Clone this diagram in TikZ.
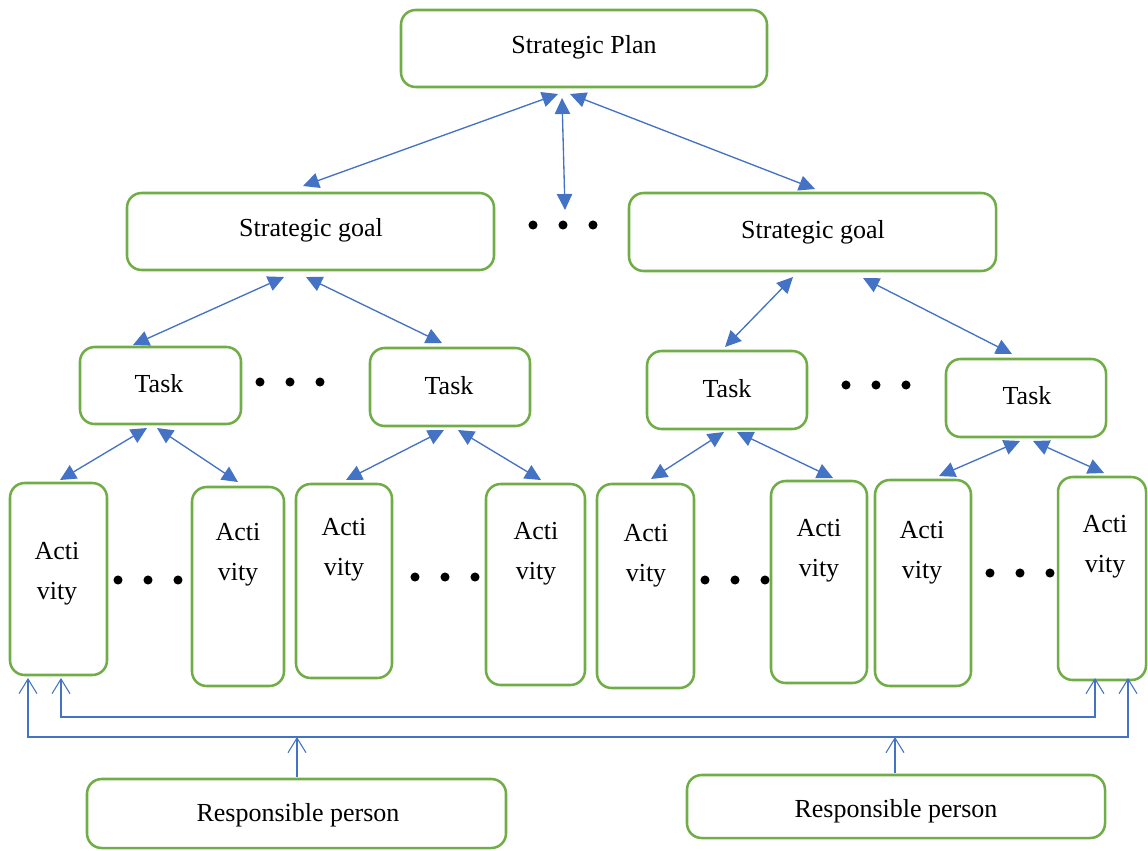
\documentclass[tikz,border=0pt]{standalone}
\usepackage{fontspec}
\setmainfont{Liberation Serif}
\usetikzlibrary{arrows.meta,calc}
\definecolor{boxgreen}{HTML}{70AD47}
\definecolor{lineblue}{HTML}{4472C4}
\tikzset{
  box/.style={draw=boxgreen, line width=1.9pt, rounded corners=11pt, inner sep=0pt, outer sep=0pt, fill=white},
  lbl/.style={inner sep=0pt, font=\fontsize{19.5}{30}\selectfont, align=center, text=black, yshift=-2.2pt},
  dotmark/.style={circle, fill=black, inner sep=0pt, minimum size=6.8pt},
  dbl/.style={draw=lineblue, line width=1pt, {Triangle[length=12pt,width=11.5pt]}-{Triangle[length=12pt,width=11.5pt]}},
  barb/.style={draw=lineblue, line width=0.8pt, -{Straight Barb[length=11pt,width=13.5pt]}},
  barb2/.style={draw=lineblue, line width=0.8pt, {Straight Barb[length=11pt,width=13.5pt]}-{Straight Barb[length=11pt,width=13.5pt]}}
}
\newcommand\mybox[5]{\node[box, minimum width={(#4-#2)*0.75pt}, minimum height={(#5-#3)*0.75pt}] (#1) at ({(#2+#4)/2},{(#3+#5)/2}) {};}
\begin{document}
\begin{tikzpicture}[x=0.75pt,y=-0.75pt]
\useasboundingbox (0,0) rectangle (1148,850);
% boxes
\mybox{plan}{401}{10}{767}{87}
\mybox{g1}{127}{193}{494}{270}
\mybox{g2}{629}{193}{996}{271}
\mybox{t1}{80}{347}{241}{424}
\mybox{t2}{370}{348}{530}{426}
\mybox{t3}{647}{351}{807}{429}
\mybox{t4}{946}{359}{1106}{437}
\mybox{a1}{10}{483}{107}{675}
\mybox{a2}{192}{487}{284}{686}
\mybox{a3}{296}{484}{392}{678}
\mybox{a4}{486}{484}{585}{685}
\mybox{a5}{597}{484}{694}{688}
\mybox{a6}{771}{481}{867}{683}
\mybox{a7}{875}{480}{971}{686}
\mybox{a8}{1058}{477}{1146}{680}
\mybox{r1}{87}{779}{506}{848}
\mybox{r2}{687}{775}{1105}{838}
% labels
\node[lbl] (lplan) at (584,44) {Strategic Plan};
\node[lbl] (lg1) at (311,227) {Strategic goal};
\node[lbl] (lg2) at (813,229) {Strategic goal};
\node[lbl] (lt1) at (159,381) {Task};
\node[lbl] (lt2) at (449,383) {Task};
\node[lbl] (lt3) at (727,386) {Task};
\node[lbl] (lt4) at (1027,393) {Task};
\node[lbl] (la1) at (57,571) {Acti\\vity};
\node[lbl] (la2) at (238,552) {Acti\\vity};
\node[lbl] (la3) at (344,547) {Acti\\vity};
\node[lbl] (la4) at (536,551) {Acti\\vity};
\node[lbl] (la5) at (646,553) {Acti\\vity};
\node[lbl] (la6) at (819,548) {Acti\\vity};
\node[lbl] (la7) at (922,550) {Acti\\vity};
\node[lbl] (la8) at (1105,544) {Acti\\vity};
\node[lbl] (lr1) at (298,812) {Responsible person};
\node[lbl] (lr2) at (896,808) {Responsible person};
% dots
\foreach \n/\x/\y in {d0a/533/225,d0b/563/225,d0c/593/225,
  d1a/260/382,d1b/290/382,d1c/320/382,
  d2a/846/385,d2b/876/385,d2c/906/385,
  d3a/118/580,d3b/148/580,d3c/178/580,
  d4a/415/577,d4b/445/577,d4c/475/577,
  d5a/705/580,d5b/735/580,d5c/765/580,
  d6a/990/573,d6b/1020/573,d6c/1050/573}
  \node[dotmark] (\n) at (\x,\y) {};
% double arrows
\draw[dbl] ($(plan.south west)+(157,7)$) -- ($(g1.north west)+(176,-7)$);
\draw[dbl] ($(plan.south west)+(169,7)$) -- ($(g2.north west)+(186,-4)$);
\draw[dbl] ($(plan.south west)+(161,11)$) -- ($(d0b)+(2,-15)$);
\draw[dbl] ($(g1.south west)+(157,7)$) -- ($(t1.north west)+(53,-2)$);
\draw[dbl] ($(g1.south west)+(179,7)$) -- ($(t2.north west)+(72,-5)$);
\draw[dbl] ($(g2.south west)+(164,6)$) -- ($(t3.north west)+(78,-4)$);
\draw[dbl] ($(g2.south west)+(234,7)$) -- ($(t4.north west)+(66,-5)$);
\draw[dbl] ($(t1.south west)+(67,4)$) -- ($(a1.north west)+(50,-3)$);
\draw[dbl] ($(t1.south west)+(77,4)$) -- ($(a2.north west)+(46,-5)$);
\draw[dbl] ($(t2.south west)+(74,4)$) -- ($(a3.north west)+(50,-4)$);
\draw[dbl] ($(t2.south west)+(88,4)$) -- ($(a4.north west)+(55,-4)$);
\draw[dbl] ($(t3.south west)+(77,3)$) -- ($(a5.north west)+(54,-5)$);
\draw[dbl] ($(t3.south west)+(90,3)$) -- ($(a6.north west)+(62,-3)$);
\draw[dbl] ($(t4.south west)+(74,4)$) -- ($(a7.north west)+(64,-4)$);
\draw[dbl] ($(t4.south west)+(87,4)$) -- ($(a8.north west)+(46,-4)$);
% bottom connectors
\coordinate (ci1) at (61,717);
\coordinate (ci2) at (1095,717);
\coordinate (co1) at (28,737);
\coordinate (co2) at (1128,737);
\coordinate (cr1) at (297,737);
\coordinate (cr2) at (895,737);
\draw[barb2] ($(a1.south west)+(51,3)$) -- (ci1) -- (ci2) -- ($(a8.south west)+(37,-2)$);
\draw[barb2] ($(a1.south west)+(18,3)$) -- (co1) -- (co2) -- ($(a8.south west)+(70,-2)$);
\draw[barb] ($(r1.north west)+(210,-2)$) -- (cr1);
\draw[barb] ($(r2.north west)+(208,-2)$) -- (cr2);
\end{tikzpicture}
\end{document}
